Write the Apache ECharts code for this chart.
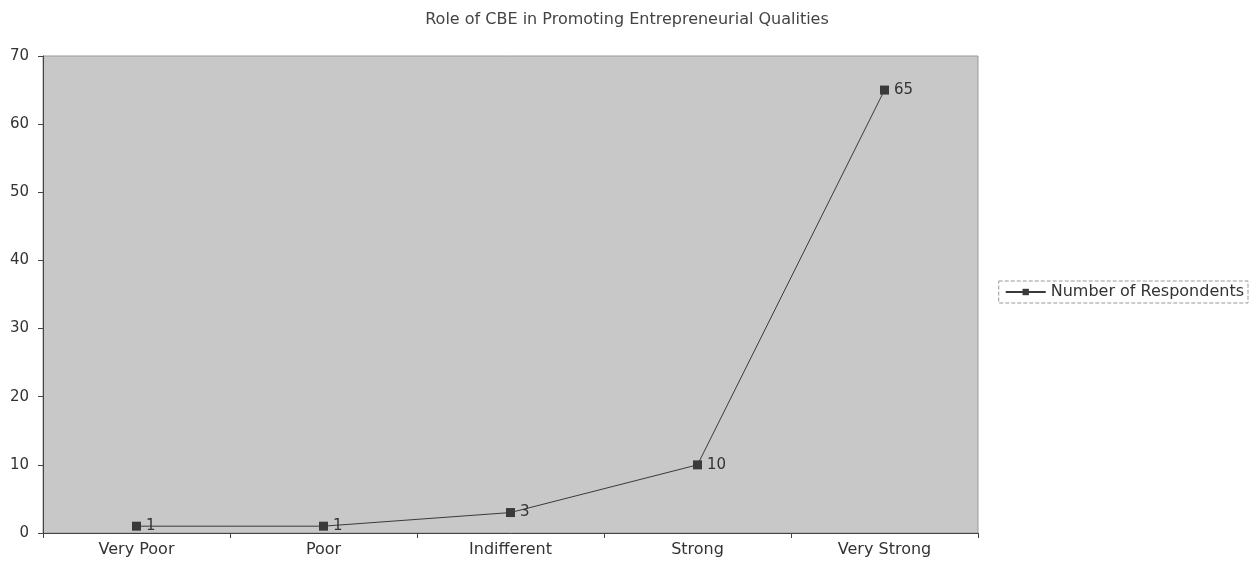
<!DOCTYPE html>
<html><head><meta charset="utf-8">
<script src="https://cdn.jsdelivr.net/npm/echarts@6/dist/echarts.min.js"></script>
<style>html,body{margin:0;padding:0;background:#fff}#c{width:1257px;height:565px}</style>
</head><body><div id="c"></div>
<script>
const title = 'Role of CBE in Promoting Entrepreneurial Qualities';
const categories = ['Very Poor', 'Poor', 'Indifferent', 'Strong', 'Very Strong'];
const seriesName = 'Number of Respondents';
const respondents = [1, 1, 3, 10, 65];
const yTicks = [0, 10, 20, 30, 40, 50, 60, 70];

const FONT = 'DejaVu Sans';
const chart = echarts.init(document.getElementById('c'));
chart.setOption({
  backgroundColor: '#ffffff',
  animation: false,
  title: {text: title, left: 622, top: 7, textAlign: 'center',
    textStyle: {fontFamily: FONT, fontSize: 16, fontWeight: 'normal', color: '#444'}},
  legend: {right: 9, top: 281, orient: 'horizontal', itemWidth: 40, itemHeight: 8, itemGap: 4,
    padding: [3, 4, 3, 6],
    borderColor: '#999', borderWidth: 1, borderType: 'dashed',
    textStyle: {fontFamily: FONT, fontSize: 16, color: '#333'},
    data: [seriesName]},
  grid: {left: 43, top: 56, right: 279, bottom: 32, containLabel: false, show: true,
    backgroundColor: '#c8c8c8', borderColor: '#999', borderWidth: 1},
  xAxis: {type: 'category', data: categories, boundaryGap: true,
    axisLine: {lineStyle: {color: '#444'}}, axisTick: {show: true, lineStyle: {color: '#444'}},
    axisLabel: {fontFamily: FONT, fontSize: 16, color: '#333', margin: 9}},
  yAxis: {type: 'value', min: yTicks[0], max: yTicks[yTicks.length - 1], interval: 10,
    axisLine: {show: true, lineStyle: {color: '#444'}}, axisTick: {show: true, lineStyle: {color: '#444'}},
    splitLine: {show: false},
    axisLabel: {fontFamily: FONT, fontSize: 15, color: '#333', margin: 14}},
  series: [{name: seriesName, type: 'line', data: respondents,
    symbol: 'rect', symbolSize: 9,
    itemStyle: {color: '#3a3a3a'},
    lineStyle: {color: '#3a3a3a', width: 1},
    label: {show: true, position: 'right', distance: 5, fontFamily: FONT, fontSize: 15, color: '#333'}}]
});
</script></body></html>
